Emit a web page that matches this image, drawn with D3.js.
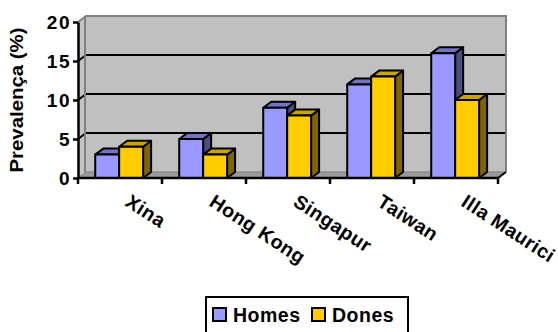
<!DOCTYPE html>
<html>
<head>
<meta charset="utf-8">
<script src="https://cdn.jsdelivr.net/npm/d3@7"></script>
<style>
  html, body { margin: 0; padding: 0; background: #fff; }
  svg { display: block; font-family: "Liberation Sans", Arial, sans-serif; }
</style>
</head>
<body>
<svg id="chart" width="558" height="332"></svg>
<script>
// Prevalence by country and sex
const categories = ["Xina", "Hong Kong", "Singapur", "Taiwan", "Illa Maurici"];
const seriesNames = ["Homes", "Dones"];
const homes = [3, 5, 9, 12, 16];
const dones = [4, 3, 8, 13, 10];
const yTicks = [0, 5, 10, 15, 20];
const yTitle = "Prevalença (%)";

const seriesValues = [homes, dones];
const palette = {
  Homes: { front: "#9999FF", top: "#7373C4", side: "#4D4D80" },
  Dones: { front: "#FFCC00", top: "#CCA300", side: "#806600" }
};
const FONT = "'Liberation Sans', Arial, sans-serif";

const svg = d3.select("#chart");

// Plot frame (front floor edge and depth offset of the 3D box)
const plotL = 78, plotR = 498, plotB = 178, plotT = 22;
const dx = 8, dy = -6;

const y = d3.scaleLinear().domain([0, 20]).range([plotB, plotT]);
const x0 = d3.scaleBand().domain(categories).range([plotL, plotR]);
const bw = x0.bandwidth();
const x1 = d3.scaleBand().domain(seriesNames).range([bw * 0.205, bw * 0.775]);

const pts = p => p.map(q => q.join(",")).join(" ");

// Side wall
svg.append("polygon")
  .attr("points", pts([[plotL, plotB], [plotL, plotT], [plotL + dx, plotT + dy], [plotL + dx, plotB + dy]]))
  .attr("fill", "#C4C4C4");

// Back wall
svg.append("rect")
  .attr("x", plotL + dx).attr("y", plotT + dy)
  .attr("width", plotR - plotL).attr("height", plotB - plotT)
  .attr("fill", "#C0C0C0");

// Floor
svg.append("polygon")
  .attr("points", pts([[plotL, plotB], [plotR, plotB], [plotR + dx, plotB + dy], [plotL + dx, plotB + dy]]))
  .attr("fill", "#9A9A9A").attr("stroke", "#808080").attr("stroke-width", 1);

// Gridlines on back wall and side wall
yTicks.filter(v => v > 0 && v < 20).forEach(v => {
  svg.append("line")
    .attr("x1", plotL + dx).attr("x2", plotR + dx)
    .attr("y1", y(v) + dy).attr("y2", y(v) + dy)
    .attr("stroke", "#000").attr("stroke-width", 2);
  svg.append("line")
    .attr("x1", plotL).attr("x2", plotL + dx)
    .attr("y1", y(v)).attr("y2", y(v) + dy)
    .attr("stroke", "#000").attr("stroke-width", 2);
});

// Wall edges
svg.append("path")
  .attr("d", `M${plotL},${plotT} L${plotL + dx},${plotT + dy} L${plotR + dx},${plotT + dy} L${plotR + dx},${plotB + dy}`)
  .attr("fill", "none").attr("stroke", "#808080").attr("stroke-width", 2);
svg.append("line")
  .attr("x1", plotL + dx - 1).attr("x2", plotL + dx - 1)
  .attr("y1", plotT + dy).attr("y2", plotB + dy)
  .attr("stroke", "#808080").attr("stroke-width", 2);

// Bars (3D columns: front, top and side faces)
const bars = svg.append("g");
categories.forEach((c, i) => {
  seriesNames.forEach((s, j) => {
    const v = seriesValues[j][i];
    const xa = x0(c) + x1(s), xb = xa + x1.bandwidth();
    const yt = y(v), yb = y(0);
    const col = palette[s];
    const g = bars.append("g").attr("stroke", "#000").attr("stroke-width", 2).attr("stroke-linejoin", "round");
    g.append("polygon").attr("fill", col.side)
      .attr("points", pts([[xb, yb], [xb, yt], [xb + dx, yt + dy], [xb + dx, yb + dy]]));
    g.append("polygon").attr("fill", col.top)
      .attr("points", pts([[xa, yt], [xb, yt], [xb + dx, yt + dy], [xa + dx, yt + dy]]));
    g.append("rect").attr("fill", col.front)
      .attr("x", xa).attr("y", yt).attr("width", xb - xa).attr("height", yb - yt);
  });
});

// Y axis
const yAxis = d3.axisLeft(y).tickValues(yTicks).tickSize(5).tickPadding(2).tickSizeOuter(0);
const gy = svg.append("g").attr("transform", `translate(${plotL},0)`).call(yAxis);
gy.select(".domain").attr("stroke", "#000").attr("stroke-width", 2.5);
gy.selectAll(".tick line").attr("stroke", "#000").attr("stroke-width", 2.5);
gy.selectAll(".tick text")
  .attr("fill", "#000").attr("font-size", 19).attr("font-weight", "bold")
  .attr("font-family", FONT)
  .attr("letter-spacing", 1.5);

// X axis: ticks at category boundaries
svg.append("line")
  .attr("x1", plotL).attr("x2", plotR).attr("y1", plotB).attr("y2", plotB)
  .attr("stroke", "#000").attr("stroke-width", 2.5);
svg.append("line")
  .attr("x1", plotR).attr("x2", plotR + dx).attr("y1", plotB).attr("y2", plotB + dy)
  .attr("stroke", "#000").attr("stroke-width", 2);
const bounds = categories.map(c => x0(c)).concat([plotR]);
svg.append("g").selectAll("line").data(bounds).join("line")
  .attr("x1", d => d).attr("x2", d => d)
  .attr("y1", plotB).attr("y2", plotB + 6)
  .attr("stroke", "#000").attr("stroke-width", 2.5);

// Category labels, rotated
svg.append("g").selectAll("text").data(categories).join("text")
  .attr("transform", d => `translate(${x0(d) + bw / 2 + 4},${205}) rotate(33)`)
  .attr("font-size", 19.5).attr("font-weight", "bold")
  .attr("font-family", FONT)
  .attr("letter-spacing", 0.5)
  .attr("fill", "#000")
  .text(d => d);

// Y axis title
svg.append("text")
  .attr("transform", `translate(23,100) rotate(-90)`)
  .attr("text-anchor", "middle")
  .attr("font-size", 18).attr("font-weight", "bold")
  .attr("font-family", FONT)
  .attr("textLength", 145).attr("lengthAdjust", "spacingAndGlyphs")
  .text(yTitle);

// Legend
const lg = svg.append("g");
lg.append("rect")
  .attr("x", 206).attr("y", 297).attr("width", 202).attr("height", 50)
  .attr("fill", "#fff").attr("stroke", "#000").attr("stroke-width", 2);
const legendX = [213, 312];
seriesNames.forEach((s, j) => {
  lg.append("rect")
    .attr("x", legendX[j]).attr("y", 308).attr("width", 13).attr("height", 13)
    .attr("fill", palette[s].front).attr("stroke", "#000").attr("stroke-width", 2);
  lg.append("text")
    .attr("x", legendX[j] + 20).attr("y", 321.5)
    .attr("font-size", 19.5).attr("font-weight", "bold")
    .attr("font-family", FONT)
    .attr("letter-spacing", 0.5)
    .text(s);
});
</script>
</body>
</html>
